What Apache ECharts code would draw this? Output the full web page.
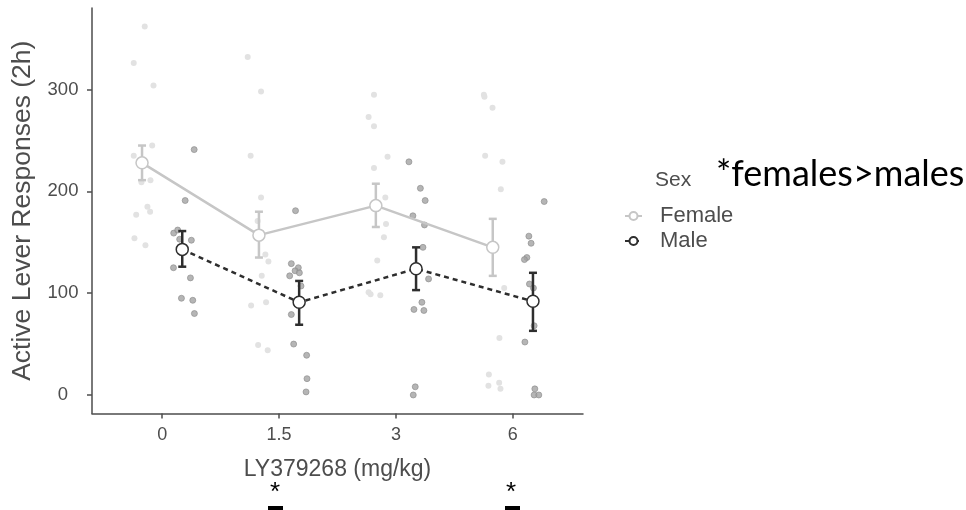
<!DOCTYPE html>
<html>
<head>
<meta charset="utf-8">
<script src="https://cdn.jsdelivr.net/npm/echarts@6/dist/echarts.min.js"></script>
<style>html,body{margin:0;padding:0;background:#fff}#c{width:966px;height:510px}</style>
</head>
<body>
<div id="c"></div>
<script>
// ---- data ----
var doseLabels = ['0', '1.5', '3', '6'];

var femaleValues = [
  [362,326,304,245,235,209,211,185,177,180,154,147],
  [332,298,235,194,171,138,131,117,88,91,49,44],
  [295,273,264,234,223,194,168,155,132,101,99,98],
  [295,293,282,235,229,202,105,56,20,9,12,6]
];
var femaleJitter = [
  [-0.149,-0.243,-0.074,-0.085,-0.243,-0.177,-0.100,-0.126,-0.222,-0.103,-0.237,-0.143],
  [-0.268,-0.154,-0.243,-0.154,-0.183,-0.117,-0.091,-0.148,-0.239,-0.111,-0.179,-0.097],
  [-0.188,-0.234,-0.188,-0.072,-0.188,-0.091,-0.085,-0.103,-0.160,-0.234,-0.217,-0.134],
  [-0.248,-0.243,-0.174,-0.237,-0.089,-0.103,-0.074,-0.115,-0.205,-0.209,-0.117,-0.106]
];
var maleValues = [
  [241,191,159,162,153,152,125,115,95,93,80],
  [181,129,125,122,120,117,107,79,50,39,16,3],
  [229,203,191,176,167,145,114,91,84,83,8,0],
  [190,156,149,135,133,109,105,68,52,6,0,0]
];
var maleJitter = [
  [0.274,0.197,0.099,0.133,0.150,0.250,0.097,0.242,0.165,0.262,0.276],
  [0.141,0.105,0.165,0.137,0.174,0.091,0.188,0.105,0.125,0.236,0.239,0.231],
  [0.111,0.209,0.250,0.145,0.244,0.231,0.279,0.222,0.154,0.239,0.165,0.148],
  [0.268,0.137,0.156,0.120,0.099,0.142,0.176,0.182,0.103,0.188,0.182,0.222]
];
var femaleMean = [228, 157, 186, 145];
var femaleLow  = [211, 135, 165, 117];
var femaleHigh = [245, 180, 207.5, 173];
var maleMean = [143, 91, 124, 92];
var maleLow  = [126, 69, 103, 63];
var maleHigh = [161, 112, 145, 120];
var yTicks = [0, 100, 200, 300];
var dodge = 0.172;

// ---- build ----
function pts(vals, jit) {
  var out = [];
  vals.forEach(function (g, i) { g.forEach(function (v, j) { out.push([i + 1 + jit[i][j], v]); }); });
  return out;
}
function means(m, off) { return m.map(function (v, i) { return [i + 1 + off, v]; }); }
function errs(lo, hi, off) { return lo.map(function (v, i) { return [i + 1 + off, v, hi[i]]; }); }

var FEM = '#c6c6c6', MAL = '#2e2e2e', AX = '#4d4d4d';

function errRender(color) {
  return function (params, api) {
    var x = api.value(0);
    var p1 = api.coord([x, api.value(1)]);
    var p2 = api.coord([x, api.value(2)]);
    var w = 4;
    var st = { stroke: color, lineWidth: 2.5 };
    return { type: 'group', children: [
      { type: 'line', shape: { x1: p1[0], y1: p1[1], x2: p2[0], y2: p2[1] }, style: st },
      { type: 'line', shape: { x1: p1[0] - w, y1: p1[1], x2: p1[0] + w, y2: p1[1] }, style: st },
      { type: 'line', shape: { x1: p2[0] - w, y1: p2[1], x2: p2[0] + w, y2: p2[1] }, style: st }
    ]};
  };
}

var chart = echarts.init(document.getElementById('c'), null, { renderer: 'canvas' });
var tickVals = [1, 2, 3, 4];
chart.setOption({
  animation: false,
  backgroundColor: '#fff',
  grid: { left: 92, right: 383, top: 8, bottom: 96.6, containLabel: false },
  xAxis: {
    type: 'value', min: 0.4, max: 4.6,
    name: 'LY379268 (mg/kg)', nameLocation: 'middle', nameGap: 45,
    nameTextStyle: { fontFamily: 'Liberation Sans', fontSize: 23, color: AX },
    axisLine: { onZero: false, lineStyle: { color: AX, width: 1.5 } },
    axisTick: { customValues: tickVals, length: 5, lineStyle: { color: AX, width: 1.5 } },
    axisLabel: { customValues: tickVals, margin: 13, fontFamily: 'Liberation Sans', fontSize: 18, color: AX,
      formatter: function (v) { return doseLabels[Math.round(v) - 1]; } },
    splitLine: { show: false }
  },
  yAxis: {
    type: 'value', min: -18.1, max: 380.1,
    name: 'Active Lever Responses (2h)', nameLocation: 'middle', nameGap: 51,
    nameTextStyle: { fontFamily: 'Liberation Sans', fontSize: 26.5, color: AX },
    axisLine: { show: true, onZero: false, lineStyle: { color: AX, width: 1.5 } },
    axisTick: { show: true, customValues: yTicks, length: 5, lineStyle: { color: AX, width: 1.5 } },
    axisLabel: { customValues: yTicks, margin: 29, align: 'center', fontFamily: 'Liberation Sans', fontSize: 18.5, color: AX },
    splitLine: { show: false }
  },
  legend: {
    orient: 'vertical', left: 619, top: 200, itemGap: 3, itemWidth: 17, itemHeight: 10,
    textStyle: { fontFamily: 'Liberation Sans', fontSize: 22, color: AX, padding: [0, 0, 0, 13] },
    data: ['Female', 'Male']
  },
  graphic: [
    { type: 'text', left: 655, top: 170, style: { text: 'Sex', fontFamily: 'Liberation Sans', fontSize: 21, fill: AX } },
    { type: 'text', left: 716, top: 156, style: { text: '*females>males', fontFamily: 'Lato', fontSize: 36, fill: '#000' } },
    { type: 'text', left: 270, top: 480, style: { text: '*', fontFamily: 'Liberation Sans', fontSize: 26, fill: '#000' } },
    { type: 'text', left: 506, top: 480, style: { text: '*', fontFamily: 'Liberation Sans', fontSize: 26, fill: '#000' } },
    { type: 'rect', shape: { x: 268, y: 506, width: 15, height: 4 }, style: { fill: '#000' } },
    { type: 'rect', shape: { x: 505, y: 506, width: 15, height: 4 }, style: { fill: '#000' } }
  ],
  series: [
    { name: 'FemalePts', type: 'scatter', data: pts(femaleValues, femaleJitter), symbolSize: 6,
      itemStyle: { color: '#e2e2e2', opacity: 1 }, z: 1 },
    { name: 'MalePts', type: 'scatter', data: pts(maleValues, maleJitter), symbolSize: 6,
      itemStyle: { color: '#a3a3a3', borderColor: '#8a8a8a', borderWidth: 0.8 }, z: 1 },
    { name: 'FemaleErr', type: 'custom', data: errs(femaleLow, femaleHigh, -dodge), renderItem: errRender(FEM), z: 2 },
    { name: 'MaleErr', type: 'custom', data: errs(maleLow, maleHigh, dodge), renderItem: errRender(MAL), z: 2 },
    { name: 'Female', type: 'line', data: means(femaleMean, -dodge), symbol: 'circle', symbolSize: 12, showSymbol: true,
      lineStyle: { color: FEM, width: 2.5 }, itemStyle: { color: '#fff', borderColor: FEM, borderWidth: 1.5 }, z: 3 },
    { name: 'Male', type: 'line', data: means(maleMean, dodge), symbol: 'circle', symbolSize: 12, showSymbol: true,
      lineStyle: { color: MAL, width: 2.5, type: [5, 4] }, itemStyle: { color: '#fff', borderColor: MAL, borderWidth: 1.5 }, z: 3 }
  ]
});
</script>
</body>
</html>
